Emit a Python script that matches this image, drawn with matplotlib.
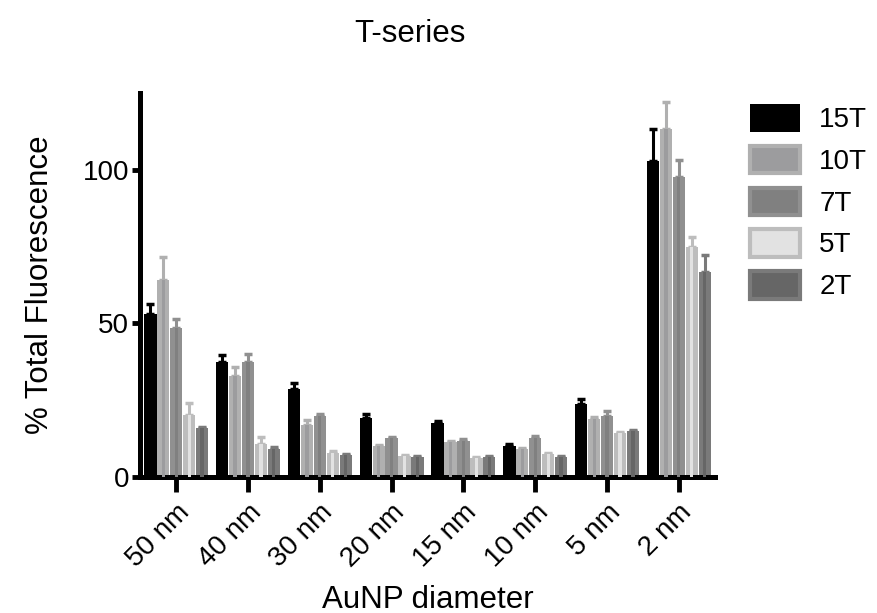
import numpy as np
import matplotlib.pyplot as plt
from matplotlib.patches import Patch

plt.rcParams['font.family'] = ['Liberation Sans', 'DejaVu Sans']

sizes = ['50 nm', '40 nm', '30 nm', '20 nm', '15 nm', '10 nm', '5 nm', '2 nm']
series = ['15T', '10T', '7T', '5T', '2T']

v15 = [53.0, 37.5, 28.7, 19.2, 17.5, 10.0, 23.8, 103.0]
v10 = [64.0, 32.8, 17.0, 10.0, 11.3, 9.0, 19.0, 113.4]
v7 = [48.5, 37.5, 19.8, 12.6, 11.8, 12.8, 19.8, 97.6]
v5 = [20.2, 10.8, 7.8, 6.8, 6.0, 7.4, 14.2, 75.0]
v2 = [16.0, 9.2, 7.2, 6.6, 6.4, 6.4, 15.0, 66.8]

e15 = [3.2, 2.2, 2.0, 1.2, 0.8, 0.6, 1.6, 10.4]
e10 = [7.5, 3.0, 1.6, 0.5, 0.5, 0.4, 0.5, 8.8]
e7 = [2.8, 2.4, 0.8, 0.5, 0.5, 0.5, 1.6, 5.5]
e5 = [3.8, 2.2, 0.6, 0.4, 0.4, 0.4, 0.4, 3.3]
e2 = [0.4, 0.4, 0.3, 0.3, 0.3, 0.3, 0.4, 5.6]

values = [v15, v10, v7, v5, v2]
errors = [e15, e10, e7, e5, e2]
outer = ['#000000', '#b0b0b0', '#909090', '#bdbdbd', '#7a7a7a']
inner = ['#000000', '#9c9c9e', '#808080', '#e2e2e2', '#666666']

fig = plt.figure(figsize=(8.77, 6.13), dpi=100)
ax = fig.add_axes([0.16, 0.222, 0.655, 0.626])

x = np.arange(len(sizes))
w = 0.18
for i in range(5):
    pos = x + (i - 2) * w
    ax.errorbar(pos, values[i], yerr=[np.zeros(8), errors[i]], fmt='none',
                ecolor=outer[i], elinewidth=2.2, capsize=3, capthick=2.5, zorder=1)
    ax.bar(pos, values[i], width=w * 0.95, color=outer[i], zorder=2)
    ax.bar(pos, values[i], width=w * 0.25, color=inner[i], zorder=3)

ax.set_xlim(-0.5, 7.5)
ax.set_ylim(0, 125)
ax.set_yticks([0, 50, 100])
ax.set_xticks(x)
ax.set_xticklabels(sizes, rotation=45, ha='right', rotation_mode='anchor')
ax.tick_params(axis='y', labelsize=20, width=3.5, length=6, pad=2)
ax.tick_params(axis='x', labelsize=20, width=3.5, length=11, pad=5)
for s in ['top', 'right']:
    ax.spines[s].set_visible(False)
for s in ['left', 'bottom']:
    ax.spines[s].set_linewidth(3.6)

ax.set_ylabel('% Total Fluorescence', fontsize=22.5, labelpad=20)
ax.set_xlabel('AuNP diameter', fontsize=22.5, labelpad=9)
fig.text(0.468, 0.945, 'T-series', fontsize=22.5, ha='center', va='center')

handles = [Patch(facecolor=inner[i], edgecolor=outer[i], linewidth=3 if i else 0)
           for i in range(5)]
fig.legend(handles, series, loc='upper left', bbox_to_anchor=(0.855, 0.83),
           frameon=False, fontsize=20, handlelength=1.8, handleheight=1.15,
           labelspacing=0.45, handletextpad=0.7, borderpad=0, borderaxespad=0)

fig.savefig('out.png', dpi=100)
